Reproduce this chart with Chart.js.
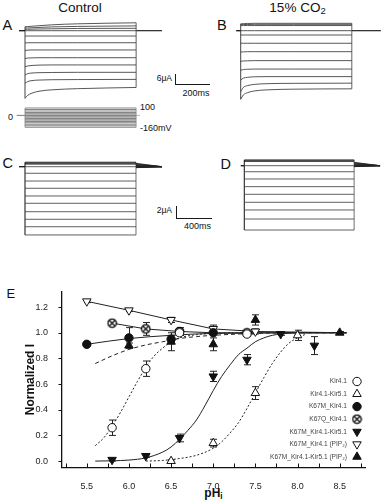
<!DOCTYPE html>
<html><head><meta charset="utf-8">
<script src="https://cdn.jsdelivr.net/npm/chart.js@4.4.1/dist/chart.umd.min.js"></script>
<style>
html,body{margin:0;padding:0;background:#fff;}
body{width:382px;height:500px;position:relative;overflow:hidden;font-family:"Liberation Sans",Arial,sans-serif;color:#111;}
canvas{position:absolute;}
.t{position:absolute;white-space:nowrap;line-height:1;}
.c{transform:translateX(-50%);}
.bar{position:absolute;background:#1a1a1a;}
sub{font-size:70%;vertical-align:-0.25em;line-height:0;}
</style></head><body>

<div class="t c" style="left:80px;top:0.8px;font-size:13.5px;">Control</div>
<div class="t c" style="left:297.5px;top:0.8px;font-size:13.5px;">15% CO<sub>2</sub></div>
<div class="t" style="left:2.5px;top:18px;font-size:14.5px;">A</div>
<div class="t" style="left:217px;top:18.3px;font-size:14.5px;">B</div>
<div class="t" style="left:2.5px;top:156px;font-size:14.5px;">C</div>
<div class="t" style="left:220.5px;top:156.6px;font-size:14.5px;">D</div>
<div class="t" style="left:6.5px;top:286.5px;font-size:13px;">E</div>

<div class="t" style="right:210px;top:74.2px;font-size:8.5px;">6μA</div>
<div class="t c" style="left:196px;top:88.6px;font-size:9px;">200ms</div>
<div class="bar" style="left:175px;top:74px;width:1px;height:10.5px;"></div>
<div class="bar" style="left:175px;top:84px;width:35px;height:1px;"></div>

<div class="t" style="right:210px;top:205.8px;font-size:8.5px;">2μA</div>
<div class="t c" style="left:197.5px;top:221.6px;font-size:9px;">400ms</div>
<div class="bar" style="left:176px;top:206px;width:1px;height:12.5px;"></div>
<div class="bar" style="left:176px;top:218px;width:36px;height:1px;"></div>

<div class="t" style="left:140px;top:103.1px;font-size:9px;">100</div>
<div class="t" style="left:140px;top:124.1px;font-size:9px;">-160mV</div>
<div class="t" style="left:8px;top:113.1px;font-size:9px;">0</div>

<div class="t c" style="left:213.5px;top:487px;font-size:12px;font-weight:bold;">pH<sub>i</sub></div>

<canvas id="cA" width="160" height="100" style="left:10px;top:12px;"></canvas>
<canvas id="cB" width="152" height="100" style="left:230px;top:12px;"></canvas>
<canvas id="cP" width="140" height="26" style="left:10px;top:104px;"></canvas>
<canvas id="cC" width="160" height="85" style="left:10px;top:155px;"></canvas>
<canvas id="cD" width="150" height="85" style="left:232px;top:153px;"></canvas>
<canvas id="cE" width="382" height="230" style="left:0px;top:270px;"></canvas>

<script>
// ================= DATA =================
// Panels A/B: current traces (µA) sampled at these times (ms) within the pulse
const tAB = [0, 15, 40, 80, 150, 300, 635];
const tracesA = [
  [2.3, 2.4, 2.6, 2.9, 3.4, 4.0, 4.6],
  [1.5, 1.6, 1.7, 1.9, 2.2, 2.5, 2.8],
  [0.8, 0.8, 0.9, 1.0, 1.1, 1.3, 1.4],
  [0, 0, 0, 0, 0, 0, 0],
  [-3.1, -3.1, -3.1, -3.1, -3.1, -3.1, -3.1],
  [-7.1, -7.0, -7.0, -7.0, -7.0, -7.0, -7.0],
  [-11.5, -11.3, -11.2, -11.2, -11.2, -11.2, -11.2],
  [-16.2, -15.9, -15.8, -15.7, -15.7, -15.7, -15.7],
  [-20.9, -20.5, -20.2, -20.0, -19.9, -19.9, -19.9],
  [-25.8, -25.0, -24.6, -24.4, -24.3, -24.2, -24.2],
  [-30.6, -29.6, -29.0, -28.7, -28.5, -28.4, -28.3],
  [-39.3, -37.6, -36.3, -35.2, -34.4, -33.7, -33.0]
];
const tracesB = [
  [4.0, 4.1, 4.2, 4.3, 4.3, 4.3, 4.3],
  [3.5, 3.6, 3.6, 3.7, 3.7, 3.7, 3.7],
  [2.9, 3.0, 3.0, 3.0, 3.0, 3.0, 3.0],
  [0, 0, 0, 0, 0, 0, 0],
  [-2.5, -2.5, -2.5, -2.5, -2.5, -2.5, -2.5],
  [-7.3, -7.3, -7.3, -7.3, -7.3, -7.3, -7.3],
  [-12.4, -12.3, -12.2, -12.2, -12.2, -12.2, -12.2],
  [-17.8, -17.6, -17.5, -17.4, -17.4, -17.4, -17.4],
  [-23.0, -22.6, -22.4, -22.3, -22.3, -22.3, -22.3],
  [-28.7, -27.6, -27.1, -26.8, -26.7, -26.7, -26.7],
  [-35.5, -33.0, -31.9, -31.2, -30.8, -30.6, -30.5],
  [-39.9, -37.4, -36.0, -35.0, -34.4, -34.0, -33.8]
];
const pulseAB = 635;
// Voltage protocol steps (mV)
const protocolSteps = [100, 80, 60, 40, 20, 0, -20, -40, -60, -80, -100, -120, -140, -160];
// Panels C/D: steady current levels (µA) and tail starting values
const levelsC = [0.72, 0.45, 0, -1.07, -2.33, -3.51, -4.76, -5.95, -7.32, -8.55, -9.76, -11.1];
const tailC   = [0.55, 0.45, 0.35, 0.28, 0.2, 0.12, 0.05, 0.0, -0.05, -0.1, -0.13, -0.16];
const levelsD = [0.93, 0.75, 0, -0.98, -2.16, -3.41, -4.65, -5.95, -7.2, -8.67, -10.46];
const tailD   = [0.55, 0.45, 0.35, 0.25, 0.15, 0.08, 0.0, -0.05, -0.1, -0.13, -0.16];
const pulseC = 1243, pulseD = 1230;

// Panel E: pH-dependence
const pH_Kir41 = [5.8, 6.2, 6.6, 7.4];
const I_Kir41  = [0.26, 0.72, 1.00, 0.99];
const E_Kir41  = [0.06, 0.06, 0.02, 0.01];
const pH_Kir4151 = [6.5, 7.0, 7.5, 8.0];
const I_Kir4151  = [0.00, 0.14, 0.53, 0.98];
const E_Kir4151  = [0.01, 0.03, 0.05, 0.04];
const pH_K67M = [5.5, 6.0, 6.5, 7.0];
const I_K67M  = [0.91, 0.96, 0.95, 1.00];
const E_K67M  = [0.01, 0.08, 0.03, 0.01];
const pH_K67Q = [5.8, 6.2, 6.6, 7.4];
const I_K67Q  = [1.075, 1.03, 1.01, 1.00];
const E_K67Q  = [0.01, 0.05, 0.03, 0.01];
const pH_K67M4151 = [5.8, 6.2, 6.6, 7.0, 7.4, 7.8, 8.2];
const I_K67M4151  = [0.01, 0.04, 0.18, 0.66, 0.79, 0.99, 0.90];
const E_K67M4151  = [0.01, 0.01, 0.03, 0.04, 0.04, 0.01, 0.07];
const pH_K67MPIP = [5.5, 6.0, 6.5, 7.0, 7.5];
const I_K67MPIP  = [1.245, 1.175, 1.10, 1.03, 1.01];
const E_K67MPIP  = [0.01, 0.01, 0.02, 0.03, 0.02];
const pH_K67M4151PIP = [6.0, 6.5, 7.0, 7.5, 8.5];
const I_K67M4151PIP  = [0.90, 0.93, 0.91, 1.10, 1.00];
const E_K67M4151PIP  = [0.02, 0.07, 0.05, 0.04, 0.01];

// fitted / connecting curves
const fx_Kir41 = [5.6, 5.7, 5.8, 5.9, 6.0, 6.1, 6.2, 6.3, 6.4, 6.5, 6.6, 6.8, 7.0, 7.4];
const fy_Kir41 = [0.12, 0.18, 0.27, 0.38, 0.50, 0.62, 0.73, 0.82, 0.88, 0.93, 0.96, 0.985, 0.995, 1.0];
const fx_Kir4151 = [6.2, 6.4, 6.6, 6.8, 7.0, 7.1, 7.2, 7.3, 7.4, 7.5, 7.6, 7.7, 7.8, 7.9, 8.0, 8.1];
const fy_Kir4151 = [0.0, 0.005, 0.02, 0.045, 0.10, 0.15, 0.22, 0.30, 0.41, 0.53, 0.65, 0.76, 0.85, 0.92, 0.96, 0.99];
const fx_K67M4151 = [5.6, 5.8, 6.0, 6.2, 6.4, 6.5, 6.6, 6.7, 6.8, 6.9, 7.0, 7.1, 7.2, 7.3, 7.4, 7.5, 7.6, 7.7, 7.8, 8.0, 8.58];
const fy_K67M4151 = [0.0, 0.002, 0.008, 0.025, 0.07, 0.11, 0.17, 0.24, 0.32, 0.43, 0.55, 0.66, 0.75, 0.83, 0.88, 0.93, 0.96, 0.98, 0.99, 1.0, 1.0];
const fx_K67M4151PIP = [5.6, 5.8, 6.0, 6.2, 6.4, 6.6, 6.8, 7.0, 7.5, 8.0, 8.58];
const fy_K67M4151PIP = [0.76, 0.82, 0.87, 0.905, 0.93, 0.955, 0.97, 0.98, 0.995, 1.0, 1.0];
const fx_K67M = [5.5, 6.0, 6.5, 7.0, 8.58];
const fy_K67M = [0.91, 0.955, 0.98, 0.995, 1.0];
const fx_K67Q = [5.8, 6.2, 6.6, 7.0, 8.58];
const fy_K67Q = [1.075, 1.03, 1.01, 1.0, 1.0];
const fx_K67MPIP = [5.5, 6.0, 6.5, 7.0, 7.5, 8.58];
const fy_K67MPIP = [1.245, 1.175, 1.10, 1.03, 1.01, 1.0];

const xTicksE = [5.5, 6.0, 6.5, 7.0, 7.5, 8.0, 8.5];
const yTicksE = [0.0, 0.2, 0.4, 0.6, 0.8, 1.0, 1.2];
const legendLabels = ["Kir4.1", "Kir4.1-Kir5.1", "K67M_Kir4.1", "K67Q_Kir4.1",
  "K67M_Kir4.1-Kir5.1", "K67M_Kir4.1 (PIP\u2082)", "K67M_Kir4.1-Kir5.1 (PIP\u2082)"];

// ================= RENDER =================
Chart.defaults.font.family = '"Liberation Sans", Arial, sans-serif';
Chart.defaults.animation = false;

function scalesFor(canvas, g) {
  const left = parseFloat(canvas.style.left), top = parseFloat(canvas.style.top);
  return {
    x: {type: 'linear', display: false, min: (left - g.x0) / g.pxPerMs, max: (left + canvas.width - g.x0) / g.pxPerMs},
    y: {type: 'linear', display: false, max: (g.y0 - top) / g.pxPerUnit, min: (g.y0 - (top + canvas.height)) / g.pxPerUnit}
  };
}
function traceChart(id, g, datasets) {
  const cv = document.getElementById(id);
  return new Chart(cv, {
    type: 'scatter',
    data: {datasets},
    options: {responsive: false, events: [], layout: {padding: 0},
      plugins: {legend: {display: false}, tooltip: {enabled: false}},
      scales: scalesFor(cv, g)}
  });
}
function mkLine(pts, extra) {
  return Object.assign({data: pts, showLine: true, pointRadius: 0, borderColor: '#333', borderWidth: 0.85, tension: 0}, extra || {});
}
function sampledTraces(times, traces, tEnd, tPre, tPost, color) {
  const ds = [];
  traces.forEach(v => ds.push(mkLine(times.map((t, j) => ({x: t, y: v[j]})), {cubicInterpolationMode: 'monotone', borderColor: color})));
  const first = traces.map(v => v[0]), last = traces.map(v => v[v.length - 1]);
  ds.push(mkLine([{x: 0, y: Math.min(0, ...first)}, {x: 0, y: Math.max(0, ...first)}], {borderColor: '#222'}));
  ds.push(mkLine([{x: tEnd, y: Math.min(0, ...last)}, {x: tEnd, y: Math.max(0, ...last)}], {borderColor: '#444'}));
  ds.push(mkLine([{x: tPre, y: 0}, {x: 0, y: 0}], {borderColor: '#111', borderWidth: 1.3}));
  ds.push(mkLine([{x: tEnd, y: 0}, {x: tPost, y: 0}], {borderColor: '#111', borderWidth: 1.1}));
  return ds;
}
function flatTraces(levels, tails, tEnd, tPre, tPost) {
  const ds = [];
  levels.forEach((v, i) => {
    ds.push(mkLine([{x: 0, y: v}, {x: tEnd, y: v}], {borderColor: i < 2 ? '#111' : '#444', borderWidth: i < 2 ? 1.2 : 0.85}));
    ds.push(mkLine([{x: tEnd, y: tails[i]}, {x: tPost, y: 0}], {borderColor: '#222'}));
  });
  ds.push(mkLine([{x: 0, y: Math.min(0, ...levels)}, {x: 0, y: Math.max(0, ...levels)}], {borderColor: '#222', borderWidth: 1.1}));
  ds.push(mkLine([{x: tEnd, y: Math.min(0, ...levels)}, {x: tEnd, y: Math.max(0, ...levels)}], {borderColor: '#555'}));
  ds.push(mkLine([{x: tPre, y: 0}, {x: 0, y: 0}], {borderColor: '#111', borderWidth: 1.3}));
  return ds;
}

traceChart('cA', {x0: 25, y0: 30.7, pxPerMs: 0.175, pxPerUnit: 1.72}, sampledTraces(tAB, tracesA, pulseAB, -34, 783, '#3a3a3a'));
traceChart('cB', {x0: 240.7, y0: 30.7, pxPerMs: 0.175, pxPerUnit: 1.72}, sampledTraces(tAB, tracesB, pulseAB, -26, 801, '#3a3a3a'));
traceChart('cC', {x0: 25, y0: 166.7, pxPerMs: 0.0893, pxPerUnit: 6.15}, flatTraces(levelsC, tailC, pulseC, -67, 1534));
traceChart('cD', {x0: 244.3, y0: 165.7, pxPerMs: 0.0893, pxPerUnit: 6.15}, flatTraces(levelsD, tailD, pulseD, -40, 1520));

// voltage protocol
(function () {
  const ds = protocolSteps.map(v => mkLine([{x: 0, y: v}, {x: pulseAB, y: v}], {borderColor: '#858585', borderWidth: 1.1}));
  ds.push(mkLine([{x: 0, y: Math.min(...protocolSteps)}, {x: 0, y: Math.max(...protocolSteps)}], {borderColor: '#888'}));
  ds.push(mkLine([{x: pulseAB, y: Math.min(...protocolSteps)}, {x: pulseAB, y: Math.max(...protocolSteps)}], {borderColor: '#999'}));
  ds.push(mkLine([{x: -47, y: 0}, {x: 0, y: 0}], {borderColor: '#666'}));
  ds.push(mkLine([{x: pulseAB, y: 0}, {x: 657, y: 0}], {borderColor: '#aaa'}));
  traceChart('cP', {x0: 25, y0: 115.4, pxPerMs: 0.175, pxPerUnit: 0.0742}, ds);
})();

// ---- Panel E ----
const crossCircle = (function () {
  const c = document.createElement('canvas'); c.width = 11; c.height = 11;
  const g = c.getContext('2d'); g.lineWidth = 1.3; g.strokeStyle = '#000'; g.fillStyle = '#fff';
  g.beginPath(); g.arc(5.5, 5.5, 4.2, 0, Math.PI * 2); g.fill(); g.stroke();
  g.lineWidth = 1.1;
  g.beginPath(); g.moveTo(2.5, 2.5); g.lineTo(8.5, 8.5); g.moveTo(8.5, 2.5); g.lineTo(2.5, 8.5); g.stroke();
  return c;
})();
function pts(xs, ys) { return xs.map((x, i) => ({x, y: ys[i]})); }
function mk(xs, ys, errs, style, fill, radius, rot) {
  return {data: pts(xs, ys), errors: errs, showLine: false, pointStyle: style, pointRadius: radius,
    pointBackgroundColor: fill, pointBorderColor: '#111', pointBorderWidth: 1, pointRotation: rot || 0, order: 0};
}
function fit(xs, ys, dash, mono) {
  return {data: pts(xs, ys), showLine: true, pointRadius: 0, borderColor: '#222', borderWidth: 1,
    borderDash: dash, cubicInterpolationMode: mono ? 'monotone' : 'default', tension: 0, order: 1};
}
const markerSets = [
  mk(pH_Kir41, I_Kir41, E_Kir41, 'circle', '#fff', 4.2),
  mk(pH_Kir4151, I_Kir4151, E_Kir4151, 'triangle', '#fff', 4.9),
  mk(pH_K67M, I_K67M, E_K67M, 'circle', '#111', 4.2),
  mk(pH_K67Q, I_K67Q, E_K67Q, crossCircle, '#fff', 4.2),
  mk(pH_K67M4151, I_K67M4151, E_K67M4151, 'triangle', '#111', 4.9, 180),
  mk(pH_K67MPIP, I_K67MPIP, E_K67MPIP, 'triangle', '#fff', 4.9, 180),
  mk(pH_K67M4151PIP, I_K67M4151PIP, E_K67M4151PIP, 'triangle', '#111', 4.9)
];
const fitSets = [
  fit(fx_Kir41, fy_Kir41, [2, 2], true),
  fit(fx_Kir4151, fy_Kir4151, [2, 2], true),
  fit(fx_K67M, fy_K67M, [], true),
  fit(fx_K67Q, fy_K67Q, [], false),
  fit(fx_K67M4151, fy_K67M4151, [], true),
  fit(fx_K67MPIP, fy_K67MPIP, [], false),
  fit(fx_K67M4151PIP, fy_K67M4151PIP, [4, 3], true)
];

const errorBars = {
  id: 'errorBars',
  beforeDatasetsDraw(chart) {
    const {ctx, scales: {x, y}} = chart;
    ctx.save(); ctx.strokeStyle = '#222'; ctx.lineWidth = 1;
    chart.data.datasets.forEach(ds => {
      if (!ds.errors) return;
      ds.data.forEach((p, i) => {
        const e = ds.errors[i]; if (!e) return;
        const px = Math.round(x.getPixelForValue(p.x)) + 0.5;
        const y1 = y.getPixelForValue(p.y + e), y2 = y.getPixelForValue(p.y - e);
        ctx.beginPath();
        ctx.moveTo(px, y1); ctx.lineTo(px, y2);
        ctx.moveTo(px - 3.5, y1); ctx.lineTo(px + 3.5, y1);
        ctx.moveTo(px - 3.5, y2); ctx.lineTo(px + 3.5, y2);
        ctx.stroke();
      });
    });
    ctx.restore();
  }
};
const axisTicks = {
  id: 'axisTicks',
  afterDraw(chart) {
    const {ctx, scales: {x, y}, chartArea: a} = chart;
    ctx.save(); ctx.strokeStyle = '#111'; ctx.lineWidth = 1;
    ctx.beginPath();
    for (let v = 5.25; v <= 8.76; v += 0.25) {
      const px = Math.round(x.getPixelForValue(v)) + 0.5;
      ctx.moveTo(px, a.bottom); ctx.lineTo(px, a.bottom - 4);
    }
    yTicksE.forEach(v => {
      const py = Math.round(y.getPixelForValue(v)) + 0.5;
      ctx.moveTo(a.left, py); ctx.lineTo(a.left - 3, py);
    });
    ctx.stroke(); ctx.restore();
  }
};
const legendE = {
  id: 'legendE',
  afterDraw(chart) {
    const {ctx} = chart;
    ctx.save();
    ctx.font = '6.6px "Liberation Sans", Arial, sans-serif';
    ctx.textAlign = 'right'; ctx.textBaseline = 'middle'; ctx.fillStyle = '#444';
    legendLabels.forEach((lab, i) => {
      const ds = markerSets[i];
      const yy = 111.5 + i * 12.55;
      ctx.fillText(lab, 347, yy);
      ctx.fillStyle = ds.pointBackgroundColor; ctx.strokeStyle = '#111'; ctx.lineWidth = 1;
      Chart.helpers.drawPoint(ctx, {pointStyle: ds.pointStyle, radius: ds.pointRadius, rotation: ds.pointRotation, borderWidth: 1}, 357, yy);
      ctx.fillStyle = '#444';
    });
    ctx.restore();
  }
};

new Chart(document.getElementById('cE'), {
  type: 'scatter',
  data: {datasets: markerSets.concat(fitSets)},
  plugins: [errorBars, axisTicks, legendE],
  options: {
    responsive: false, events: [],
    layout: {padding: {top: 21.7, right: 17, bottom: 0, left: 0}},
    plugins: {legend: {display: false}, tooltip: {enabled: false}},
    scales: {
      x: {type: 'linear', min: 5.2, max: 8.8,
        afterBuildTicks: s => { s.ticks = xTicksE.map(v => ({value: v})); },
        afterFit: s => { s.height = 32.5; },
        grid: {display: false}, border: {display: true, color: '#111', width: 1.3},
        ticks: {autoSkip: false, maxRotation: 0, padding: 6, color: '#222', font: {size: 9},
          callback: v => Number(v).toFixed(1)}},
      y: {type: 'linear', min: -0.05, max: 1.32,
        afterBuildTicks: s => { s.ticks = yTicksE.map(v => ({value: v})); },
        afterFit: s => { s.width = 61.5; },
        grid: {display: false}, border: {display: true, color: '#111', width: 1.3},
        title: {display: true, text: 'Normalized I', color: '#111', font: {size: 12, weight: 'bold'}, padding: {top: 23}},
        ticks: {autoSkip: false, padding: 5.5, color: '#222', font: {size: 9},
          callback: v => Number(v).toFixed(1)}}
    }
  }
});
</script>
</body></html>
